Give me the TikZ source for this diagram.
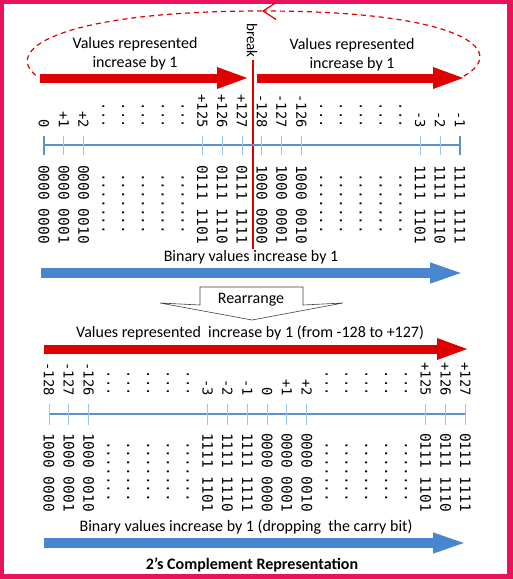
\documentclass[tikz,border=0pt]{standalone}
\usepackage{fontspec}
\setmainfont{Carlito}
\newfontfamily\monofont[RawFeature=+zero]{DejaVu Sans Mono}
\usetikzlibrary{arrows.meta}
\definecolor{framepink}{RGB}{234,18,90}
\definecolor{redA}{RGB}{224,0,0}
\definecolor{blueA}{RGB}{74,134,208}
\definecolor{lineblue}{RGB}{91,143,209}
\definecolor{tickblue}{RGB}{160,196,232}
\tikzset{
  txt/.style={inner sep=0pt, font=\fontsize{16}{19}\selectfont},
  lbl/.style={rotate=-90, inner sep=0pt, font=\monofont\fontsize{13.8}{14}\selectfont},
  bin/.style={rotate=-90, inner sep=0pt, font=\monofont\fontsize{14.5}{14.5}\selectfont},
  tickmark/.style={draw=tickblue, line width=1pt},
  numline/.style={draw=lineblue, line width=1.3pt},
  fatred/.style={draw=redA, line width=9pt, -{Triangle[length=33pt,width=19pt]}},
  fatblue/.style={draw=blueA, line width=9.5pt, -{Triangle[length=35pt,width=18pt]}},
  dashedarc/.style={draw=redA, line width=1.2pt, dash pattern=on 5pt off 4pt},
}
\begin{document}
\begin{tikzpicture}[x=1pt,y=-1pt]
\useasboundingbox (0,0) rectangle (513,579);
% frame
\fill[framepink] (0,0) rectangle (513,579);
\fill[white] (4,4) rectangle (507.3,574);

% ---------- top section ----------
\coordinate (ra1) at (40,78);  \coordinate (ra2) at (250,78);
\coordinate (rb1) at (257,78); \coordinate (rb2) at (466,78);
\draw[fatred] (ra1) -- (ra2);
\draw[fatred] (rb1) -- (rb2);
\node[txt, align=center] (lt) at (135,54) {Values represented\\increase by 1};
\node[txt, align=center] (rt) at (352,55) {Values represented\\increase by 1};

% dashed return loop
\coordinate (dR) at (464,76);
\coordinate (dTop) at (262,11);
\coordinate (dL) at (38,77);
\draw[dashedarc, -{Straight Barb[length=13pt,width=17pt]}] (dR) .. controls (510,50) and (460,11) .. (dTop);
\draw[dashedarc] (dTop) .. controls (60,11) and (0,50) .. (dL);

% break line
\node[rotate=-90, inner sep=0pt, font=\fontsize{15}{15}\selectfont, anchor=east] (brk) at (252,58) {break};
\coordinate (bl1) at (253,60); \coordinate (bl2) at (253,249);
\draw[redA, line width=2pt] (bl1) -- (bl2);

% top number line
\coordinate (tn1) at (44,145); \coordinate (tn2) at (460,145);
\draw[numline] (tn1) -- (tn2);
\foreach \i/\v/\b in {0/0/0000 0000, 1/+1/0000 0001, 2/+2/0000 0010,
  8/+125/0111 1101, 9/+126/0111 1110, 10/+127/0111 1111,
  11/-128/1000 0000, 12/-127/1000 0001, 13/-126/1000 0010,
  19/-3/1111 1101, 20/-2/1111 1110, 21/-1/1111 1111}{
  \draw[tickmark] ({44+19.8*\i},136) -- ({44+19.8*\i},155);
  \node[lbl, anchor=east] (tl\i) at ({44+19.8*\i},128) {\v};
  \node[bin, anchor=west] (tb\i) at ({44+19.8*\i},165) {\b};
}
\foreach \i in {3,4,5,6,7,14,15,16,17,18}{
  \node[lbl, anchor=east] (tl\i) at ({44+19.8*\i},128) {...};
  \node[bin, anchor=west] (tb\i) at ({44+19.8*\i},173) {.......};
}
\draw[numline] (44,136) -- (44,155);
\draw[numline] (460,136) -- (460,155);

\node[txt] (btop) at (251,257) {Binary values increase by 1};
\coordinate (ba1) at (41,273); \coordinate (ba2) at (465,273);
\draw[fatblue] (ba1) -- (ba2);

% rearrange block arrow
\draw[black!75, line width=0.6pt, fill=white]
  (200,287) -- (303,287) -- (303,305) -- (343,303) -- (252,320) -- (160,303) -- (200,305) -- cycle;
\node[txt] (rearr) at (251,300) {Rearrange};

% ---------- bottom section ----------
\node[txt] (vbot) at (250,333) {Values represented~ increase by 1 (from -128 to +127)};
\coordinate (rc1) at (44,349); \coordinate (rc2) at (470,349);
\draw[fatred] (rc1) -- (rc2);

\coordinate (bn1) at (49,414); \coordinate (bn2) at (465,414);
\draw[numline] (bn1) -- (bn2);
\foreach \i/\v/\b in {0/-128/1000 0000, 1/-127/1000 0001, 2/-126/1000 0010,
  8/-3/1111 1101, 9/-2/1111 1110, 10/-1/1111 1111,
  11/0/0000 0000, 12/+1/0000 0001, 13/+2/0000 0010,
  19/+125/0111 1101, 20/+126/0111 1110, 21/+127/0111 1111}{
  \draw[tickmark] ({49+19.83*\i},404) -- ({49+19.83*\i},425);
  \node[lbl, anchor=east] (bl\i) at ({49+19.83*\i},396) {\v};
  \node[bin, anchor=west] (bb\i) at ({49+19.83*\i},433) {\b};
}
\foreach \i in {3,4,5,6,7,14,15,16,17,18}{
  \node[lbl, anchor=east] (bl\i) at ({49+19.83*\i},396) {...};
  \node[bin, anchor=west] (bb\i) at ({49+19.83*\i},441) {.......};
}

\node[txt] (bbot) at (246,527) {Binary values increase by 1 (dropping~ the carry bit)};
\coordinate (bc1) at (44,543); \coordinate (bc2) at (468,543);
\draw[fatblue] (bc1) -- (bc2);

\node[txt, font=\bfseries\fontsize{16}{19}\selectfont] (title) at (252,565) {2’s Complement Representation};
\end{tikzpicture}
\end{document}
